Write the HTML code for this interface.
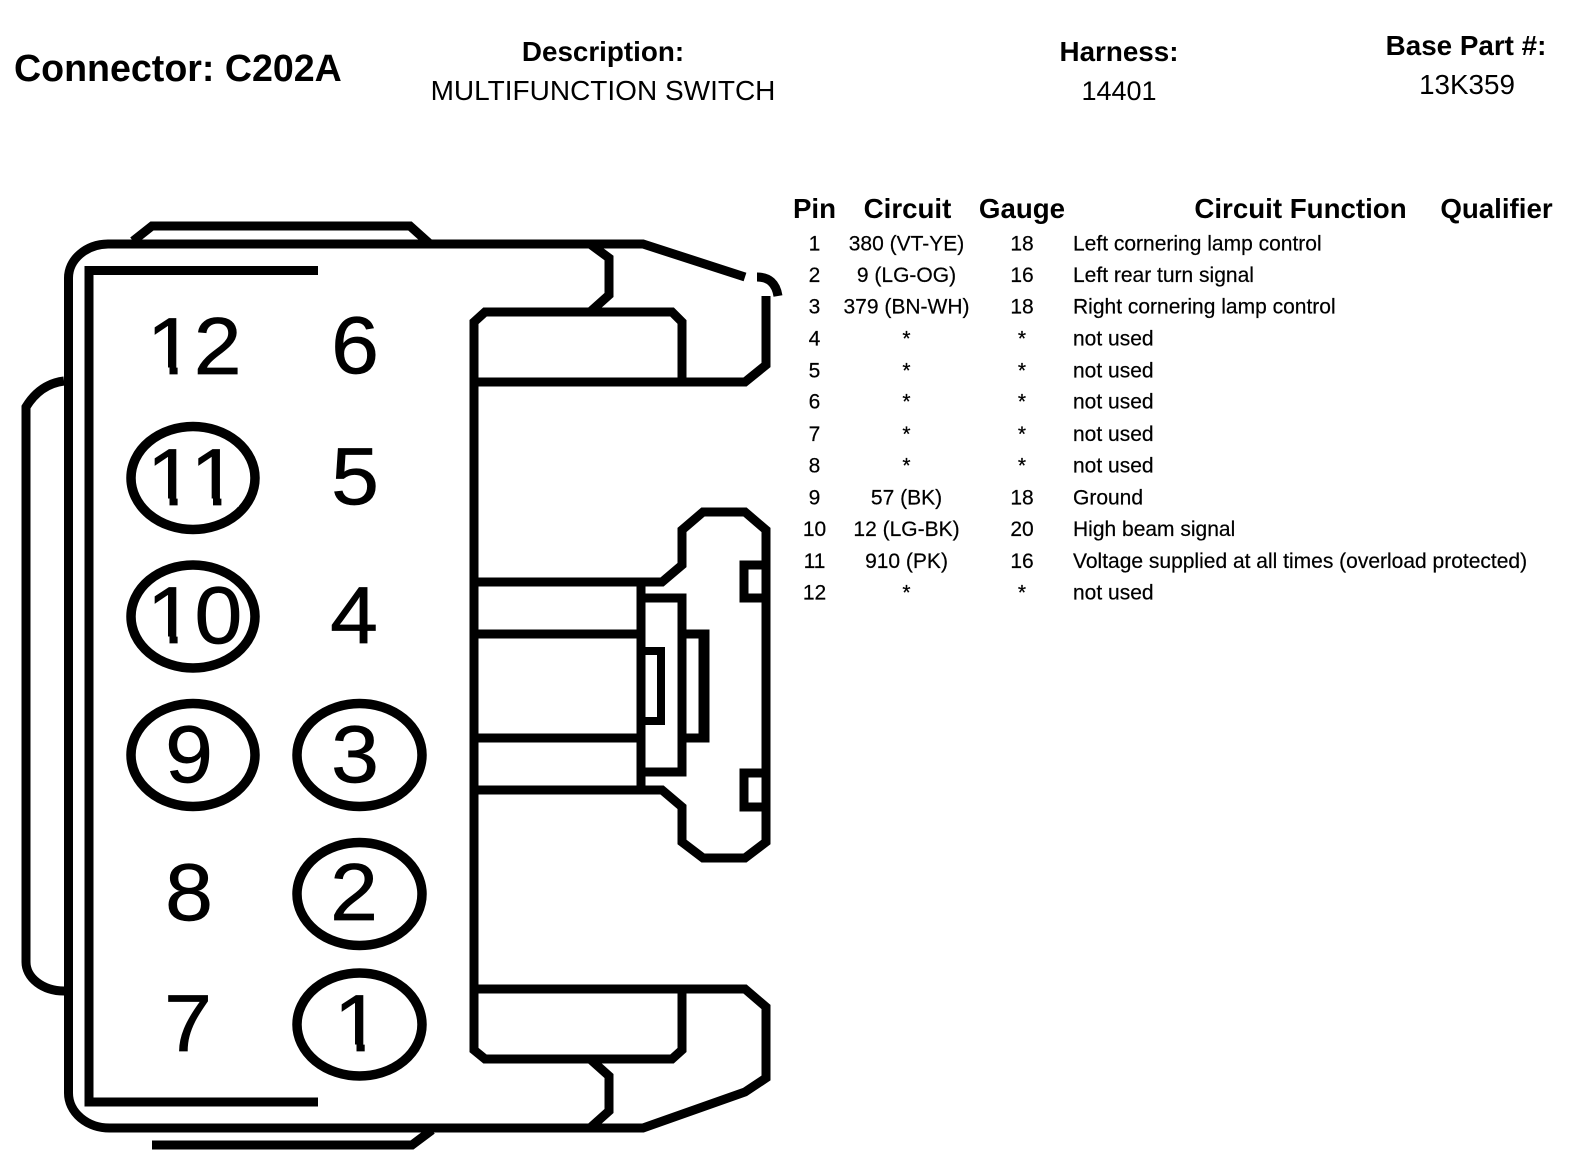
<!DOCTYPE html>
<html lang="en">
<head>
<meta charset="utf-8">
<title>Connector C202A</title>
<style>
html,body{margin:0;padding:0;background:#fff;width:1584px;height:1174px;overflow:hidden}
svg{display:block}
text{font-family:"Liberation Sans",Arial,sans-serif;fill:#000}
.b{font-weight:bold}
.m{text-anchor:middle}
.n{font-size:86px;stroke:#000;stroke-width:.7px}
.h{font-size:27.8px}
.t{font-size:27.7px;font-weight:bold;text-anchor:middle}
.r{font-size:21px;stroke:#000;stroke-width:.2px}
.l{fill:none;stroke:#000;stroke-width:9;stroke-linejoin:miter}
</style>
</head>
<body>
<svg width="1584" height="1174" viewBox="0 0 1584 1174" xmlns="http://www.w3.org/2000/svg">
<rect width="1584" height="1174" fill="#fff"/>

<!-- header -->
<text class="b" x="14" y="81" font-size="37.6">Connector: C202A</text>
<text class="b m h" x="603" y="61">Description:</text>
<text class="m" x="603" y="100" font-size="28">MULTIFUNCTION SWITCH</text>
<text class="b m h" x="1119" y="61">Harness:</text>
<text class="m" x="1119" y="100" font-size="27">14401</text>
<text class="b m h" x="1466" y="55">Base Part #:</text>
<text class="m h" x="1467" y="94">13K359</text>

<!-- connector outline -->
<path class="l" d="M133 241 L152 226 H410 L430 244"/>
<path class="l" d="M68.5 278 A40 34 0 0 1 108 244 H643 L745 277"/>
<path class="l" d="M757 277 Q775 277 778 296" stroke-width="8"/>
<path class="l" d="M766 296 V365 L745 382 H474"/>
<path class="l" d="M68.5 278 V1093 A41 35 0 0 0 110 1128 H643 L745 1092 L766 1078 V1007 L745 989 H474"/>
<path class="l" d="M152 1145 H412 L432 1130"/>
<path class="l" d="M318 270.5 H89 V1102 H318"/>
<path class="l" d="M64 381 Q40 384 26 407 V962 A38 29 0 0 0 64 991"/>
<path class="l" d="M682 382 V322 L672 312 H485 L474 322 V1050 L485 1059 H672 L682 1050 V989"/>
<path class="l" d="M590 244 L609 258 V295 L590 312"/>
<path class="l" d="M590 1059 L609 1076 V1111 L590 1128"/>

<!-- right latch -->
<path class="l" d="M474 582 H662 L682 565 V530 L703 512 H745 L766 530 V842 L745 858 H703 L682 842 V807 L662 790 H474"/>
<path class="l" d="M474 634 H641 M474 738 H641 M641 582 V790"/>
<path class="l" d="M641 598 H682 V772 H641"/>
<path class="l" d="M682 634 H704 M682 738 H704"/>
<path class="l" d="M704 629.5 V742.5" style="stroke-width:11"/>
<path class="l" d="M641 651 H661 V721 H641" style="stroke-width:8"/>
<path class="l" d="M766 565 H744 V598 H766"/>
<path class="l" d="M766 773 H744 V807 H766"/>

<!-- pin ellipses -->
<ellipse class="l" cx="193" cy="478" rx="62" ry="51.5" style="stroke-width:9.5"/>
<ellipse class="l" cx="193" cy="616.5" rx="62" ry="51.5" style="stroke-width:9.5"/>
<ellipse class="l" cx="193" cy="755" rx="62" ry="51.5" style="stroke-width:9.5"/>
<ellipse class="l" cx="359.5" cy="755" rx="62.5" ry="51.5" style="stroke-width:9.5"/>
<ellipse class="l" cx="359.5" cy="894" rx="62.5" ry="51.5" style="stroke-width:9.5"/>
<ellipse class="l" cx="359.5" cy="1024.5" rx="62.5" ry="51.5" style="stroke-width:9.5"/>

<!-- pin numbers -->
<text class="n" transform="translate(146 374) scale(1 .94)" x="0.7 47.8">12</text>
<text class="n m" transform="translate(355 373) scale(1 .94)">6</text>
<text class="n" transform="translate(146 505) scale(1 .94)" x="0.7 44.4">11</text>
<text class="n m" transform="translate(355 504) scale(1 .94)">5</text>
<text class="n" transform="translate(146 643) scale(1 .94)" x="0.7 48.5">10</text>
<text class="n m" transform="translate(354 643) scale(1 .94)">4</text>
<text class="n m" transform="translate(189 782) scale(1 .94)">9</text>
<text class="n m" transform="translate(355 782) scale(1 .94)">3</text>
<text class="n m" transform="translate(189 920) scale(1 .94)">8</text>
<text class="n m" transform="translate(354 920) scale(1 .94)">2</text>
<text class="n m" transform="translate(188 1051) scale(1 .94)">7</text>
<text class="n" transform="translate(333.7 1051) scale(1 .94)">1</text>

<!-- white masks trimming the foot of each "1" so it reads like the reference face -->
<g fill="#fff">
<rect x="149" y="367.5" width="20.5" height="8"/><rect x="177.6" y="367.5" width="17" height="8"/>
<rect x="149" y="498.5" width="20.5" height="8"/><rect x="177.6" y="498.5" width="17" height="8"/>
<rect x="194.5" y="498.5" width="18.5" height="8"/><rect x="221.4" y="498.5" width="17.6" height="8"/>
<rect x="149" y="636.5" width="20.5" height="8"/><rect x="177.6" y="636.5" width="17" height="8"/>
<rect x="337" y="1044.5" width="19.5" height="8"/><rect x="364.7" y="1044.5" width="17.8" height="8"/>
</g>

<!-- table head -->
<text class="t" x="814.5" y="218">Pin</text>
<text class="t" x="907.5" y="218">Circuit</text>
<text class="t" x="1022" y="218">Gauge</text>
<text class="t" x="1300.5" y="218">Circuit Function</text>
<text class="t" x="1496.5" y="218">Qualifier</text>

<!-- table rows -->
<text class="r m" x="814.5" y="250.5">1</text><text class="r m" x="906.5" y="250.5">380 (VT-YE)</text><text class="r m" x="1022" y="250.5">18</text><text class="r" x="1073" y="250.5">Left cornering lamp control</text>
<text class="r m" x="814.5" y="282">2</text><text class="r m" x="906.5" y="282">9 (LG-OG)</text><text class="r m" x="1022" y="282">16</text><text class="r" x="1073" y="282">Left rear turn signal</text>
<text class="r m" x="814.5" y="313.5">3</text><text class="r m" x="906.5" y="313.5">379 (BN-WH)</text><text class="r m" x="1022" y="313.5">18</text><text class="r" x="1073" y="313.5">Right cornering lamp control</text>
<text class="r m" x="814.5" y="345.7">4</text><text class="r m" x="906.5" y="345.7">*</text><text class="r m" x="1022" y="345.7">*</text><text class="r" x="1073" y="345.7">not used</text>
<text class="r m" x="814.5" y="377.5">5</text><text class="r m" x="906.5" y="377.5">*</text><text class="r m" x="1022" y="377.5">*</text><text class="r" x="1073" y="377.5">not used</text>
<text class="r m" x="814.5" y="408.7">6</text><text class="r m" x="906.5" y="408.7">*</text><text class="r m" x="1022" y="408.7">*</text><text class="r" x="1073" y="408.7">not used</text>
<text class="r m" x="814.5" y="440.9">7</text><text class="r m" x="906.5" y="440.9">*</text><text class="r m" x="1022" y="440.9">*</text><text class="r" x="1073" y="440.9">not used</text>
<text class="r m" x="814.5" y="472.5">8</text><text class="r m" x="906.5" y="472.5">*</text><text class="r m" x="1022" y="472.5">*</text><text class="r" x="1073" y="472.5">not used</text>
<text class="r m" x="814.5" y="504.4">9</text><text class="r m" x="906.5" y="504.4">57 (BK)</text><text class="r m" x="1022" y="504.4">18</text><text class="r" x="1073" y="504.4">Ground</text>
<text class="r m" x="814.5" y="536.2">10</text><text class="r m" x="906.5" y="536.2">12 (LG-BK)</text><text class="r m" x="1022" y="536.2">20</text><text class="r" x="1073" y="536.2">High beam signal</text>
<text class="r m" x="814.5" y="567.9">11</text><text class="r m" x="906.5" y="567.9">910 (PK)</text><text class="r m" x="1022" y="567.9">16</text><text class="r" x="1073" y="567.9">Voltage supplied at all times (overload protected)</text>
<text class="r m" x="814.5" y="599.5">12</text><text class="r m" x="906.5" y="599.5">*</text><text class="r m" x="1022" y="599.5">*</text><text class="r" x="1073" y="599.5">not used</text>
</svg>
</body>
</html>
